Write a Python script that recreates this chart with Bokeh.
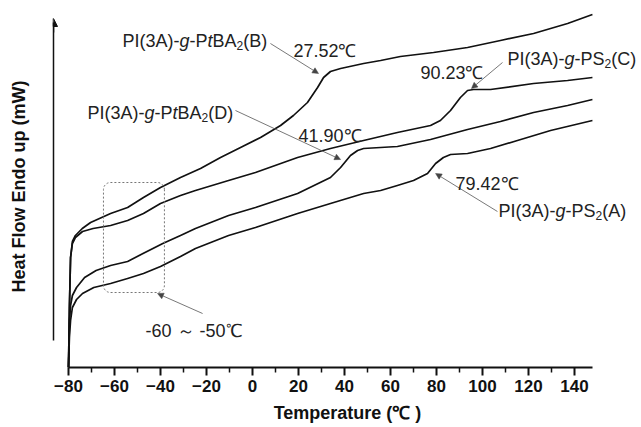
import numpy as np
from bokeh.plotting import figure
from bokeh.models import Range1d, FixedTicker, Arrow, NormalHead, Label
from bokeh.embed import file_html
from bokeh.resources import INLINE

# DSC traces: temperature (deg C) and heat flow (arbitrary units, endo up)
temp_B = [-80.0, -79.6, -79.1, -78.3, -77.0, -74.0, -70.4, -61.7, -54.3, -47.4, -40.0, -31.3, -22.6, -13.9,
          -5.2, 3.5, 12.2, 17.8, 23.9, 28.3, 30.9, 33.9, 38.3, 48.3, 55.7, 64.3, 78.7, 93.5, 107.8,
          122.2, 137.0, 147.8]
hf_B = [0, 60, 110, 126, 132, 139, 145, 154, 160, 170, 180, 190, 199, 210,
        220, 230, 242, 252, 265, 280, 290, 296, 299, 304, 307, 311, 315, 320, 327,
        334, 344, 353]

temp_C = [-80.0, -79.6, -79.1, -78.3, -77.0, -73.9, -69.3, -61.7, -54.3, -47.4, -40.0, -31.3, -24.8,
          -10.4, 1.3, 19.6, 33.9, 48.3, 63.0, 77.4, 81.7, 86.1, 90.4, 93.5, 96.1, 103.5, 122.2, 137.0, 147.8]
hf_C = [0, 60, 110, 124, 130, 136, 139, 142, 147, 154, 164, 172, 177,
        187, 195, 210, 219, 227, 235, 242, 247, 257, 270, 277, 278, 278, 284, 287, 290]

temp_D = [-80.0, -79.6, -79.1, -78.3, -76.5, -73.0, -68.0, -61.7, -54.3, -47.6, -39.0, -31.3, -24.8,
          -10.4, 1.3, 19.6, 33.9, 38.3, 42.6, 45.7, 48.3, 63.0, 77.4, 93.5, 107.8, 122.2, 137.0, 147.8]
hf_D = [0, 45, 62, 72, 80, 90, 97, 102, 106, 114, 124, 132, 139,
        152, 160, 174, 190, 200, 212, 217, 219, 221, 228, 238, 246, 255, 262, 268]

temp_A = [-80.0, -79.6, -79.1, -78.3, -76.5, -73.9, -69.0, -61.7, -54.3, -47.4, -40.0, -31.3, -24.8,
          -10.4, 1.3, 19.6, 33.9, 48.3, 55.7, 63.0, 70.0, 76.1, 79.6, 83.0, 86.1, 93.5, 103.5, 115.2,
          129.6, 147.8]
hf_A = [0, 30, 47, 60, 68, 74, 80, 84, 89, 94, 101, 111, 119,
        132, 140, 154, 164, 174, 177, 182, 187, 194, 204, 210, 213, 214, 219, 227,
        237, 247]

x_ticks = [-80, -60, -40, -20, 0, 20, 40, 60, 80, 100, 120, 140]
x_minor_ticks = [-70, -50, -30, -10, 10, 30, 50, 70, 90, 110, 130]
tg_labels = ["27.52℃", "41.90℃", "90.23℃", "79.42℃"]
region_label = "-60 ～ -50℃"
region_box = [-64.8, -38.3, 75, 185]  # left, right, bottom, top

FONT = "Liberation Sans"
X0, X1, Y0, Y1 = -86.52, 169.13, 0, 362
W_PX, H_PX = 641, 427
BL, BR, BT, BB = 53, 0, 5, 60

p = figure(width=W_PX, height=H_PX, output_backend="svg", toolbar_location=None,
           x_range=Range1d(X0, X1), y_range=Range1d(Y0, Y1),
           min_border_left=BL, min_border_right=BR, min_border_top=BT, min_border_bottom=BB)
p.outline_line_color = None
p.grid.visible = False
p.background_fill_color = "white"
p.border_fill_color = "white"

# x axis
xa = p.xaxis[0]
xa.ticker = FixedTicker(ticks=x_ticks, minor_ticks=x_minor_ticks)
xa.bounds = (-80, 148)
xa.axis_line_width = 2
xa.axis_line_color = "#111"
xa.major_tick_line_width = 2
xa.major_tick_line_color = "#111"
xa.minor_tick_line_width = 1.5
xa.minor_tick_line_color = "#111"
xa.major_tick_out = 8
xa.major_tick_in = 0
xa.minor_tick_out = 5
xa.minor_tick_in = 0
xa.major_label_text_font = FONT
xa.major_label_text_font_style = "bold"
xa.major_label_text_font_size = "17px"
xa.major_label_text_color = "#111"
xa.major_label_standoff = 4
xa.axis_label = "Temperature (℃ )"
xa.axis_label_text_font = FONT
xa.axis_label_text_font_style = "bold"
xa.axis_label_text_font_size = "18px"
xa.axis_label_text_color = "#111"
xa.axis_label_standoff = 8

# y axis (no ticks, arrow line)
ya = p.yaxis[0]
ya.ticker = FixedTicker(ticks=[])
ya.bounds = (27, 345)
ya.axis_line_width = 1.5
ya.axis_line_color = "#111"
ya.major_tick_out = 0
ya.major_tick_in = 0
ya.major_label_standoff = 0
ya.axis_label = "Heat Flow Endo up (mW)"
ya.axis_label_text_font = FONT
ya.axis_label_text_font_style = "bold"
ya.axis_label_text_font_size = "18px"
ya.axis_label_text_color = "#111"
ya.axis_label_standoff = 25

p.add_layout(Arrow(end=NormalHead(size=8, fill_color="#111", line_color="#111"),
                   x_start=X0, y_start=335, x_end=X0, y_end=349,
                   line_color="#111", line_width=1.5))

# curves
for xs, ys in [(temp_B, hf_B), (temp_C, hf_C), (temp_D, hf_D), (temp_A, hf_A)]:
    p.line(xs, ys, line_color="#111", line_width=1.7, line_join="round")

# dotted rounded box (corner radius in screen pixels converted to data units)
px_per_x = (W_PX - BL - BR) / (X1 - X0)
px_per_y = (H_PX - BT - BB) / (Y1 - Y0)
r = 7
rx, ry = r / px_per_x, r / px_per_y
L, R, B, T = region_box
th = np.linspace(0, np.pi / 2, 8)
bx, by = [], []
for cx, cy, a0 in [(R - rx, T - ry, 0.0), (L + rx, T - ry, np.pi / 2),
                   (L + rx, B + ry, np.pi), (R - rx, B + ry, 1.5 * np.pi)]:
    bx += list(cx + rx * np.cos(a0 + th))
    by += list(cy + ry * np.sin(a0 + th))
bx.append(bx[0]); by.append(by[0])
p.line(bx, by, line_color="#777", line_width=1, line_dash="2 2")

# leader arrows
def leader(x0, y0, x1, y1):
    p.add_layout(Arrow(end=NormalHead(size=6, fill_color="#444", line_color="#444", line_width=0.5),
                       x_start=x0, y_start=y0, x_end=x1, y_end=y1,
                       line_color="#555", line_width=0.8))

leader(7.8, 324, 28.7, 294)
leader(-7.4, 257, 38.3, 208)
leader(108.7, 305, 95.2, 279)
leader(106.5, 156, 79.6, 194)
leader(-21.7, 54, -41.3, 74)

# rich labels
W = {'P': 667, 'I': 278, '(': 333, ')': 333, '3': 556, 'A': 667, '-': 333, 'g': 556, 't': 278,
     'B': 667, '2': 556, 'S': 667, 'C': 722, 'D': 722}
SIZE = 18
SUB = 12

def rich(x, y, segs):
    off = 0.0
    for s, kind in segs:
        size = SUB if kind == "sub" else SIZE
        p.add_layout(Label(x=x, y=y, x_offset=off, y_offset=(-5 if kind == "sub" else 0), text=s,
                           text_font=FONT, text_font_size=f"{size}px",
                           text_font_style=("italic" if kind == "it" else "normal"),
                           text_baseline="alphabetic", text_align="left", text_color="#222"))
        off += sum(W.get(c, 556) for c in s) / 1000 * size

def name_tba(tag):
    return [("PI(3A)-", "n"), ("g", "it"), ("-P", "n"), ("t", "it"), ("BA", "n"), ("2", "sub"), (f"({tag})", "n")]

def name_ps(tag):
    return [("PI(3A)-", "n"), ("g", "it"), ("-PS", "n"), ("2", "sub"), (f"({tag})", "n")]

rich(-56.5, 327, name_tba("B"))
rich(-71.7, 255, name_tba("D"))
rich(110.9, 309, name_ps("C"))
rich(107.0, 157, name_ps("A"))

def plain(x, y, s):
    p.add_layout(Label(x=x, y=y, text=s, text_font=FONT, text_font_size=f"{SIZE}px",
                       text_baseline="alphabetic", text_align="left", text_color="#222"))

plain(17.8, 317, tg_labels[0])
plain(20.0, 232, tg_labels[1])
plain(73.0, 295, tg_labels[2])
plain(88.3, 184, tg_labels[3])
plain(-46.5, 37, region_label)

open("out.html", "w").write(file_html(p, INLINE))
